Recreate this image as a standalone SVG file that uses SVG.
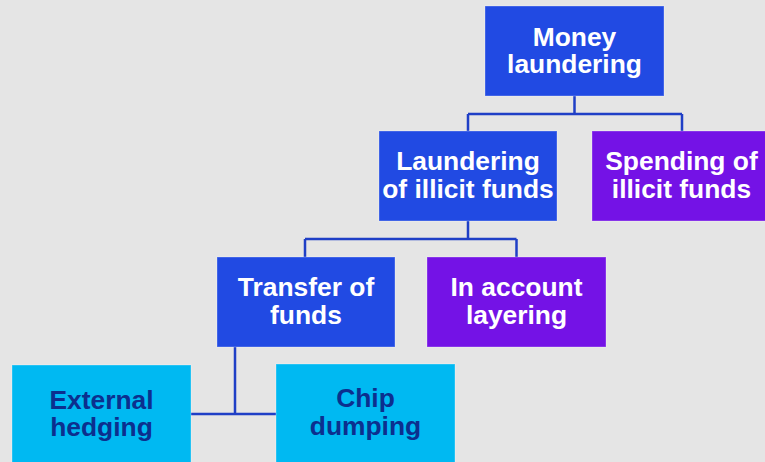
<svg xmlns="http://www.w3.org/2000/svg" width="765" height="462" viewBox="0 0 765 462">
<style>
.box{stroke:#ffffff;stroke-opacity:0.3;stroke-width:1}
.blue{fill:#214ae3}
.purple{fill:#7412e6}
.cyan{fill:#00b9f2}
.t{font-family:"Liberation Sans",Arial,sans-serif;font-weight:bold;font-size:26.4px;text-anchor:middle}
.w{fill:#ffffff}
.d{fill:#0c2f8e}
.c{fill:none;stroke:#1f3fc6;stroke-width:2.5}
</style>
<rect width="765" height="462" fill="#e5e5e5"/>
<g id="connectors">
<path class="c" d="M574.5 96 V114 M468 114 H682 M468 114 V131 M682 114 V131"/>
<path class="c" d="M468 221 V239 M305 239 H516.5 M305 239 V257 M516.5 239 V257"/>
<path class="c" d="M235 347 V414 M191 414 H276"/>
</g>
<g id="money-laundering">
<rect class="box blue" x="485" y="6" width="179" height="90"/>
<text class="t w" x="574.5" y="45.7">Money</text>
<text class="t w" x="574.5" y="72.7">laundering</text>
</g>
<g id="laundering-of-illicit-funds">
<rect class="box blue" x="379" y="131" width="178" height="90"/>
<text class="t w" x="468" y="170">Laundering</text>
<text class="t w" x="468" y="198">of illicit funds</text>
</g>
<g id="spending-of-illicit-funds">
<rect class="box purple" x="592" y="131" width="179" height="90"/>
<text class="t w" x="681.5" y="170">Spending of</text>
<text class="t w" x="681.5" y="198">illicit funds</text>
</g>
<g id="transfer-of-funds">
<rect class="box blue" x="217" y="257" width="178" height="90"/>
<text class="t w" x="306" y="295.7">Transfer of</text>
<text class="t w" x="306" y="324">funds</text>
</g>
<g id="in-account-layering">
<rect class="box purple" x="427" y="257" width="179" height="90"/>
<text class="t w" x="516.5" y="295.7">In account</text>
<text class="t w" x="516.5" y="324">layering</text>
</g>
<g id="external-hedging">
<rect class="box cyan" x="12" y="365" width="179" height="110"/>
<text class="t d" x="101.5" y="409.3">External</text>
<text class="t d" x="101.5" y="436">hedging</text>
</g>
<g id="chip-dumping">
<rect class="box cyan" x="276" y="364" width="179" height="110"/>
<text class="t d" x="365.5" y="407">Chip</text>
<text class="t d" x="365.5" y="435">dumping</text>
</g>
</svg>
